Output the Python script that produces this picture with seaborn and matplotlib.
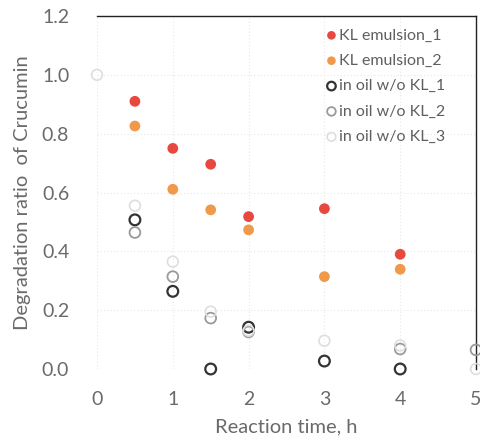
import matplotlib
matplotlib.use("Agg")
import matplotlib.pyplot as plt
import seaborn as sns
import numpy as np

sns.set_style("white")
plt.rcParams['font.family'] = ['Lato', 'DejaVu Sans']

series_names = ["KL emulsion_1", "KL emulsion_2", "in oil w/o KL_1", "in oil w/o KL_2", "in oil w/o KL_3"]

x_em1 = [0.5, 1, 1.5, 2, 3, 4]
y_em1 = [0.91, 0.75, 0.696, 0.518, 0.545, 0.39]

x_em2 = [0.5, 1, 1.5, 2, 3, 4]
y_em2 = [0.826, 0.611, 0.541, 0.473, 0.314, 0.339]

x_oil1 = [0.5, 1, 1.5, 2, 3, 4]
y_oil1 = [0.507, 0.264, 0.0, 0.142, 0.027, 0.0]

x_oil2 = [0.5, 1, 1.5, 2, 4, 5]
y_oil2 = [0.464, 0.314, 0.173, 0.126, 0.068, 0.065]

x_oil3 = [0, 0.5, 1, 1.5, 2, 3, 4, 5]
y_oil3 = [1.0, 0.555, 0.365, 0.195, 0.13, 0.096, 0.08, 0.0]

xticks = [0, 1, 2, 3, 4, 5]
yticks = [0.0, 0.2, 0.4, 0.6, 0.8, 1.0, 1.2]

fig = plt.figure(figsize=(4.81, 4.38), dpi=100)
ax = fig.add_axes([97/481, 1-369/438, (476-97)/481, (369-16)/438])

styles = [
    (x_em1, y_em1, dict(color="#E8483F", edgecolor="none")),
    (x_em2, y_em2, dict(color="#F0994A", edgecolor="none")),
    (x_oil1, y_oil1, dict(facecolor="none", edgecolor="#333333", linewidth=1.6)),
    (x_oil2, y_oil2, dict(facecolor="none", edgecolor="#9a9a9a", linewidth=1.3)),
    (x_oil3, y_oil3, dict(facecolor="none", edgecolor="#dedede", linewidth=1.2)),
]
for (xs, ys, kw), name in zip(styles, series_names):
    sns.scatterplot(x=xs, y=ys, ax=ax, s=60, label=name, clip_on=False, zorder=3, **kw)

ax.set_xlim(0, 5)
ax.set_ylim(0, 1.2)
ax.set_xticks(xticks)
ax.set_yticks(yticks)
ax.set_xticklabels([str(t) for t in xticks])
ax.set_yticklabels([f"{t:.1f}" for t in yticks])
ax.tick_params(axis='both', length=0, labelsize=14, labelcolor="#6a6a6a")
ax.tick_params(axis='y', pad=20)
ax.tick_params(axis='x', pad=16)
ax.grid(True, color="#e8e8e8", linestyle=(0, (1, 2)), linewidth=0.8)
ax.set_axisbelow(True)

for side in ["left", "bottom"]:
    ax.spines[side].set_visible(False)
for side in ["top", "right"]:
    ax.spines[side].set_visible(True)
    ax.spines[side].set_color("#222222")
    ax.spines[side].set_linewidth(1.0)

ax.set_xlabel("Reaction time, h", fontsize=14.5, color="#6a6a6a", labelpad=7)
ax.set_ylabel("Degradation ratio  of Crucumin", fontsize=14.5, color="#6a6a6a", labelpad=8)

leg = ax.legend(loc="upper right", bbox_to_anchor=(0.92, 0.965), frameon=False, fontsize=11.5,
                handletextpad=0.05, labelspacing=0.7, borderaxespad=0, borderpad=0,
                handlelength=0.9, markerscale=0.8)
for t in leg.get_texts():
    t.set_color("#5f5f5f")

fig.savefig("out.png", dpi=100)
